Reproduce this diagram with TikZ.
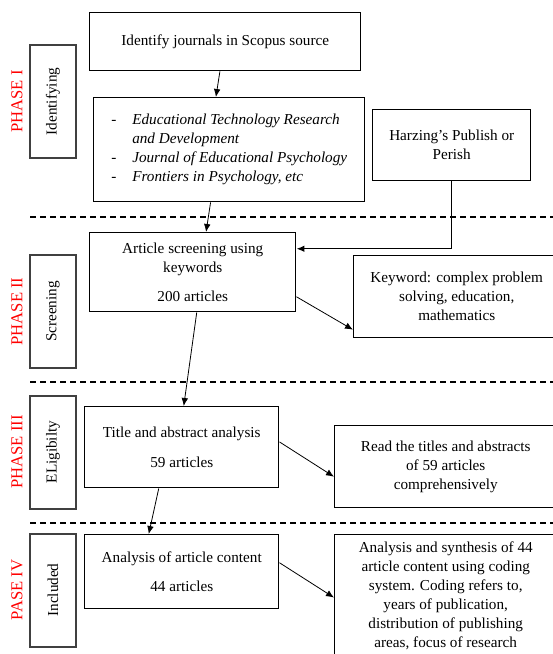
\documentclass[tikz,border=0pt]{standalone}
\usepackage{fontspec}
\setmainfont{Liberation Serif}
\usetikzlibrary{arrows.meta}
\begin{document}
\begin{tikzpicture}[x=0.75pt, y=-0.75pt, font=\fontsize{11.4}{14.25}\selectfont,
    box/.style={draw=black, line width=1.1pt, anchor=north west, align=center, inner sep=0pt},
    side/.style={draw=black!75, line width=1.5pt, rotate=90, inner sep=0pt,
        minimum width=84.75pt, minimum height=34.5pt},
    phase/.style={red, rotate=90, font=\fontsize{12.5}{15}\selectfont},
    arr/.style={-{Latex[length=6pt, width=5pt]}, line width=0.6pt},
    sep/.style={line width=1pt, dash pattern=on 4.5pt off 3pt}]
    \useasboundingbox (0,0) rectangle (553,654);

    % Phase separators
    \foreach \y in {217, 382, 523} {
        \draw[sep] (30,\y) -- (553,\y);
    }

    % Phase labels and stage boxes
    \foreach \n/\y/\lab/\stage in {1/101.5/PHASE I/Identifying, 2/311.5/PHASE II/Screening,
                                   3/452/PHASE III/ELigibilty, 4/590/PASE IV/Included} {
        \node[phase] (ph\n) at (17,\y) {\lab};
        \node[side] (st\n) at (53,\y) {\stage};
    }

    % Phase I
    \node[box, minimum width=203.25pt, minimum height=43.5pt] (scopus) at (89,12)
        {Identify journals in Scopus source};
    \node[box, align=left, minimum width=203.25pt, minimum height=78pt] (jour) at (93,97)
        {\makebox[15.75pt][l]{-}\textit{Educational Technology Research}\\
         \hspace*{15.75pt}\textit{and Development}\\
         \makebox[15.75pt][l]{-}\textit{Journal of Educational Psychology}\\
         \makebox[15.75pt][l]{-}\textit{Frontiers in Psychology, etc}};
    \node[box, minimum width=118.5pt, minimum height=53.25pt] (harz) at (372,109)
        {Harzing’s Publish or\\Perish};

    % Phase II
    \node[box, minimum width=154.5pt, minimum height=59.25pt] (screen) at (89,232)
        {Article screening using\\keywords\\[8pt]200 articles};
    \node[box, minimum width=154.5pt, minimum height=61.5pt] (keyw) at (353,255)
        {Keyword: complex problem\\solving, education,\\mathematics};

    % Phase III
    \node[box, minimum width=145.5pt, minimum height=60.75pt] (title) at (84,406)
        {Title and abstract analysis\\[8pt]59 articles};
    \node[box, minimum width=166.5pt, minimum height=61.5pt] (read) at (334,425)
        {Read the titles and abstracts\\of 59 articles\\comprehensively};

    % Phase IV
    \node[box, minimum width=145.5pt, minimum height=55.5pt] (content) at (84,534)
        {Analysis of article content\\[8pt]44 articles};
    \node[box, minimum width=166.5pt, minimum height=92.25pt] (synth) at (334,534)
        {Analysis and synthesis of 44\\article content using coding\\system. Coding refers to,\\years of publication,\\distribution of publishing\\areas, focus of research};

    % Arrows
    \draw[arr] ([xshift=-4pt]scopus.south) -- ([xshift=-10pt]jour.north);
    \draw[arr] ([xshift=-14pt]jour.south) -- ([xshift=10pt]screen.north);
    \draw[arr, line width=1pt] (harz.south) |- ([yshift=17.6pt]screen.east);
    \draw[arr] ([yshift=-18.4pt]screen.east) -- ([yshift=-24.75pt]keyw.west);
    \draw[arr] ([xshift=3pt]screen.south) -- ([xshift=1.5pt]title.north);
    \draw[arr] ([yshift=4pt]title.east) -- ([yshift=-7.5pt]read.west);
    \draw[arr] ([xshift=-17.25pt]title.south) -- ([xshift=-24.75pt]content.north);
    \draw[arr] ([yshift=6.75pt]content.east) -- ([yshift=-1pt]synth.west);
\end{tikzpicture}
\end{document}
